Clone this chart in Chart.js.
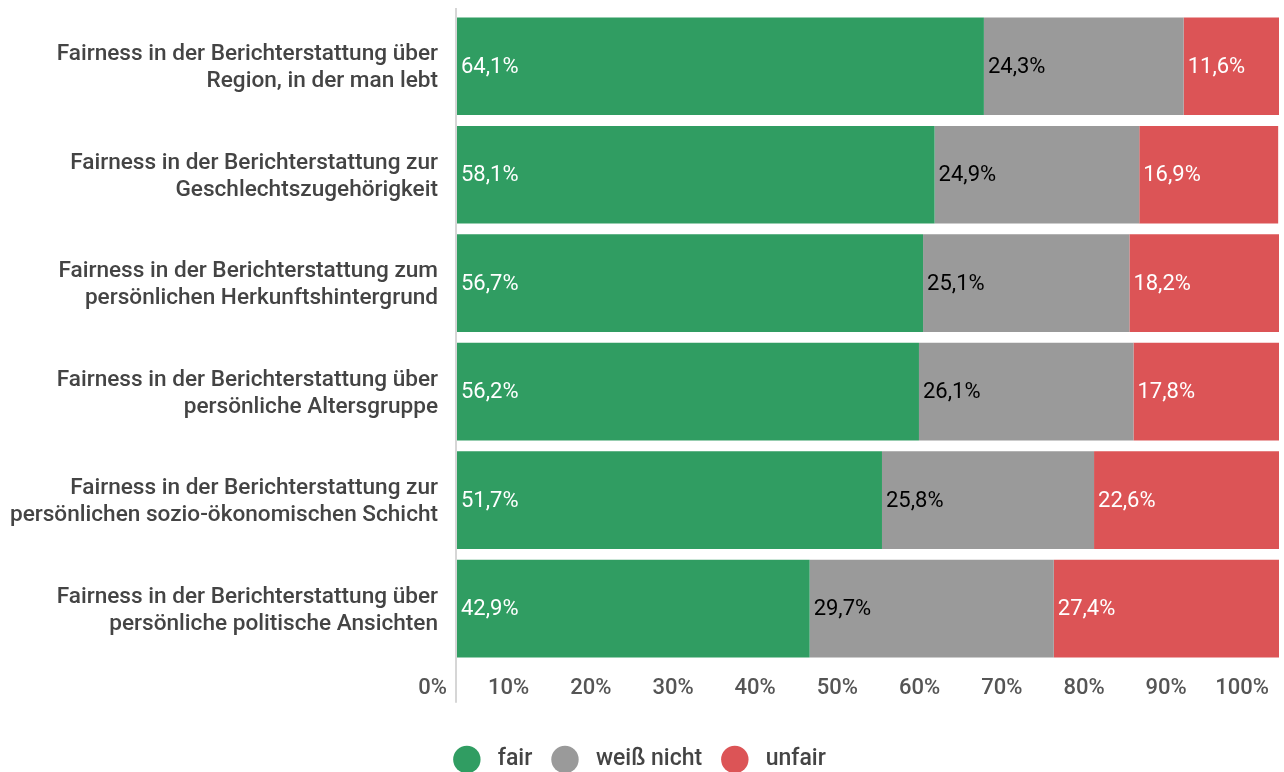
<!DOCTYPE html>
<html>
<head>
<meta charset="utf-8">
<script src="https://cdn.jsdelivr.net/npm/chart.js@4.4.0/dist/chart.umd.min.js"></script>
<style>
  html, body { margin: 0; padding: 0; background: #fff; }
  .wrap { width: 1284px; height: 772px; position: relative; }
</style>
</head>
<body>
<div class="wrap"><canvas id="chart1"></canvas></div>
<script>
// categories (two lines each)
const categories = [
  ['Fairness in der Berichterstattung über', 'Region, in der man lebt'],
  ['Fairness in der Berichterstattung zur', 'Geschlechtszugehörigkeit'],
  ['Fairness in der Berichterstattung zum', 'persönlichen Herkunftshintergrund'],
  ['Fairness in der Berichterstattung über', 'persönliche Altersgruppe'],
  ['Fairness in der Berichterstattung zur', 'persönlichen sozio-ökonomischen Schicht'],
  ['Fairness in der Berichterstattung über', 'persönliche politische Ansichten']
];
const seriesNames = ['fair', 'weiß nicht', 'unfair'];
const fairValues = [64.1, 58.1, 56.7, 56.2, 51.7, 42.9];
const unknownValues = [24.3, 24.9, 25.1, 26.1, 25.8, 29.7];
const unfairValues = [11.6, 16.9, 18.2, 17.8, 22.6, 27.4];
const tickValues = [0, 10, 20, 30, 40, 50, 60, 70, 80, 90, 100];

const colors = ['#309d62', '#9a9a9a', '#dc5456'];
const labelColors = ['#ffffff', '#000000', '#ffffff'];

const fmt = v => v.toFixed(1).replace('.', ',') + '%';

// value labels inside the bars, left aligned
const barLabels = {
  id: 'barLabels',
  afterDatasetsDraw(chart) {
    const ctx = chart.ctx;
    ctx.save();
    ctx.font = '400 22px Roboto';
    ctx.textAlign = 'left';
    ctx.textBaseline = 'middle';
    chart.data.datasets.forEach((ds, i) => {
      const meta = chart.getDatasetMeta(i);
      meta.data.forEach((bar, j) => {
        const left = Math.min(bar.base, bar.x);
        ctx.fillStyle = labelColors[i];
        ctx.fillText(fmt(ds.data[j]), left + 4, bar.y + 1);
      });
    });
    ctx.restore();
  }
};

// thin axis line at 0%
const zeroLine = {
  id: 'zeroLine',
  beforeDatasetsDraw(chart) {
    const { ctx, chartArea } = chart;
    ctx.save();
    ctx.strokeStyle = '#d6d6d6';
    ctx.lineWidth = 2;
    ctx.beginPath();
    ctx.moveTo(chartArea.left - 1, chartArea.top - 4);
    ctx.lineTo(chartArea.left - 1, chartArea.bottom + 40);
    ctx.stroke();
    ctx.restore();
  }
};

const ctx = document.getElementById('chart1').getContext('2d');
new Chart(ctx, {
  type: 'bar',
  data: {
    labels: categories,
    datasets: [
      { label: seriesNames[0], data: fairValues, backgroundColor: colors[0] },
      { label: seriesNames[1], data: unknownValues, backgroundColor: colors[1] },
      { label: seriesNames[2], data: unfairValues, backgroundColor: colors[2] }
    ]
  },
  options: {
    indexAxis: 'y',
    responsive: true,
    maintainAspectRatio: false,
    animation: false,
    layout: { padding: { left: 0, right: 5, top: 12, bottom: -9 } },
    datasets: { bar: { categoryPercentage: 0.9, barPercentage: 1 } },
    scales: {
      x: {
        stacked: true,
        min: 0,
        max: 100,
        afterBuildTicks: axis => { axis.ticks = tickValues.map(v => ({ value: v })); },
        afterFit: axis => { axis.height = 66.2; axis.paddingLeft = 0; axis.paddingRight = 0; },
        grid: { display: false, drawTicks: false },
        border: { display: false },
        ticks: {
          align: 'end',
          labelOffset: -10,
          padding: 12,
          color: '#555',
          font: { family: 'Roboto', size: 22, weight: '500' },
          callback: v => v + '%'
        }
      },
      y: {
        stacked: true,
        grid: { display: false, drawTicks: false },
        border: { display: false },
        afterFit: axis => { axis.width = 457; axis.paddingTop = 0; axis.paddingBottom = 0; },
        ticks: {
          padding: 19,
          labelOffset: 2,
          color: '#444',
          font: { family: 'Roboto', size: 22.6, weight: '500', lineHeight: 1.2 }
        }
      }
    },
    plugins: {
      tooltip: { enabled: false },
      legend: {
        position: 'bottom',
        labels: {
          usePointStyle: true,
          pointStyle: 'circle',
          pointStyleWidth: 27.4,
          boxHeight: 19.4,
          padding: 19,
          color: '#444',
          font: { family: 'Roboto', size: 23, weight: '500' },
          generateLabels: chart => Chart.defaults.plugins.legend.labels.generateLabels(chart)
            .map(l => Object.assign(l, { text: ' ' + l.text }))
        }
      }
    }
  },
  plugins: [barLabels, zeroLine]
});
</script>
</body>
</html>
